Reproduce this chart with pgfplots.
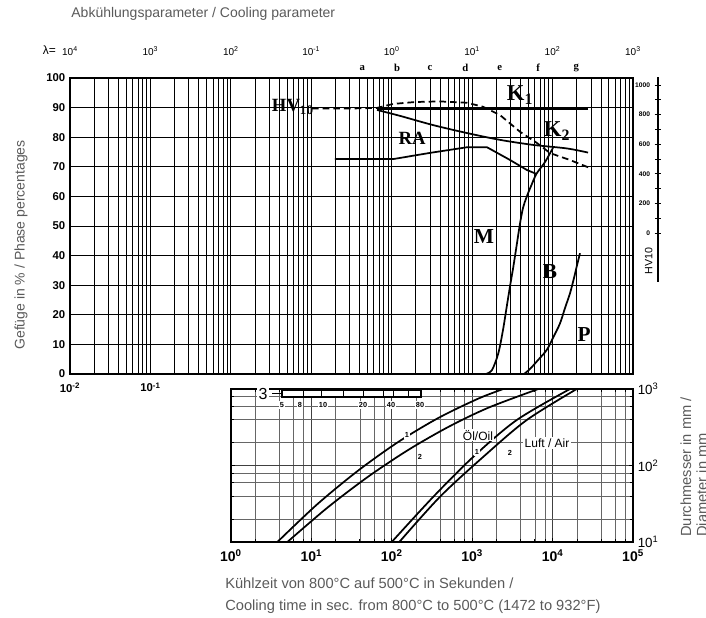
\documentclass[border=0pt]{standalone}
\usepackage{fontspec}
\setmainfont{Liberation Sans}
\newfontfamily\lbl{Liberation Serif}
\usepackage{pgfplots}
\pgfplotsset{compat=1.18}
\definecolor{txt}{HTML}{5A5A5A}

\begin{document}
\begin{tikzpicture}
\path[use as bounding box] (0,0) rectangle (529.5pt,462.75pt);

% upper panel: phase percentages
\begin{axis}[
  at={(52.5pt,182.25pt)}, anchor=south west, scale only axis,
  width=422.25pt, height=222pt,
  xmode=log, xmin=1e-2, xmax=1e5, ymin=0, ymax=100,
  xtick={1e-2,1e-1},
  xticklabels={\textbf{10\textsuperscript{-2}},\textbf{10\textsuperscript{-1}}},
  xticklabel style={yshift=-3pt},
  minor xtick={2e-2,3e-2,4e-2,5e-2,6e-2,7e-2,8e-2,9e-2,
    0.2,0.3,0.4,0.5,0.6,0.7,0.8,0.9,1,2,3,4,5,6,7,8,9,
    10,20,30,40,50,60,70,80,90,100,200,300,400,500,600,700,800,900,
    1000,2000,3000,4000,5000,6000,7000,8000,9000,
    10000,20000,30000,40000,50000,60000,70000,80000,90000},
  ytick={0,10,...,100},
  grid=both,
  major grid style={black, line width=0.65pt},
  minor grid style={black, line width=0.65pt},
  axis line style={line width=1.4pt},
  major tick length=0pt, minor tick length=0pt,
  tick label style={font=\bfseries\fontsize{8.5}{10}\selectfont},
  /pgf/number format/assume math mode=true,
  clip=false,
]
% K1
\addplot[black, line width=1.4pt] coordinates {(65.6,89.6) (27600,89.6)};
% K2
\addplot[black, line width=1.3pt, smooth] coordinates {
  (65.6,89.2) (127,87.2) (326,84.1) (863,81.4) (2220,79.1) (5710,77.4) (15100,76.2) (27600,74.8)};
% RA lower boundary
\addplot[black, line width=1.3pt] coordinates {
  (19.7,72.6) (104,72.6) (299,74.7) (863,76.6) (1531,76.6) (2958,72.3) (4810,68.9) (6300,67.6)};
% M
\addplot[black, line width=1.3pt, smooth] coordinates {
  (1480,0) (1766,1.35) (2115,7.0) (2420,14.9) (2690,22.7) (2960,29.7) (3255,36.3)
  (3615,44.3) (3940,50.9) (4290,56.1) (4770,59.9) (5400,63.5) (6300,67.6) (8050,71.6) (10120,76.4)};
% P
\addplot[black, line width=1.3pt, smooth] coordinates {
  (4415,0) (5240,1.7) (6590,4.7) (8450,8.1) (10120,12.2) (12370,17.1) (14280,22.3)
  (16480,27.3) (18460,32.4) (19950,36.3) (21940,40.8)};

\node[font=\lbl\bfseries\fontsize{14}{14}\selectfont] at (axis cs:5.9,90.2) {HV\textsubscript{10}};
\node[font=\lbl\bfseries\fontsize{17}{17}\selectfont] at (axis cs:3936,94.3) {K\textsubscript{1}};
\node[font=\lbl\bfseries\fontsize{17}{17}\selectfont] at (axis cs:11350,82.1) {K\textsubscript{2}};
\node[font=\lbl\bfseries\fontsize{14}{14}\selectfont] at (axis cs:179,79.7) {RA};
\node[font=\lbl\bfseries\fontsize{16}{16}\selectfont] at (axis cs:1403,46.3) {M};
\node[font=\lbl\bfseries\fontsize{16}{16}\selectfont] at (axis cs:9290,34.5) {B};
\node[font=\lbl\bfseries\fontsize{16}{16}\selectfont] at (axis cs:24600,13.2) {P};
\node[font=\lbl\bfseries\fontsize{8}{8}\selectfont] at (axis cs:43,103.4) {a};
\node[font=\lbl\bfseries\fontsize{8}{8}\selectfont] at (axis cs:117,103.4) {b};
\node[font=\lbl\bfseries\fontsize{8}{8}\selectfont] at (axis cs:300,103.4) {c};
\node[font=\lbl\bfseries\fontsize{8}{8}\selectfont] at (axis cs:820,103.4) {d};
\node[font=\lbl\bfseries\fontsize{8}{8}\selectfont] at (axis cs:2200,103.4) {e};
\node[font=\lbl\bfseries\fontsize{8}{8}\selectfont] at (axis cs:6600,103.4) {f};
\node[font=\lbl\bfseries\fontsize{8}{8}\selectfont] at (axis cs:19700,103.4) {g};
\end{axis}

% overlay: hardness HV10 and cooling parameter lambda
\begin{axis}[
  at={(52.5pt,182.25pt)}, anchor=south west, scale only axis,
  width=422.25pt, height=222pt,
  xmode=log, xmin=1e-2, xmax=1e5, ymin=-952.7, ymax=1047.3,
  axis line style={draw=none}, tick style={draw=none},
  ytick=\empty,
  xtick={1e-2,1e-1,1,10,100,1000,10000,100000},
  xticklabels={10\textsuperscript{4},10\textsuperscript{3},10\textsuperscript{2},10\textsuperscript{-1},
    10\textsuperscript{0},10\textsuperscript{1},10\textsuperscript{2},10\textsuperscript{3}},
  xticklabel pos=upper,
  xticklabel style={font=\fontsize{7.5}{8}\selectfont, yshift=13pt},
  clip=false,
]
\addplot[black, line width=1.3pt, dash pattern=on 5pt off 3pt] coordinates {
  (10.2,841) (30.3,841) (65.6,845) (104,872) (195,885) (398,889) (863,880) (1365,853)
  (2220,797) (3935,684) (6400,608) (9290,540) (16480,493) (29170,439)};
\node[anchor=east, font=\fontsize{9}{9}\selectfont] at (rel axis cs:0,1) [xshift=-7pt, yshift=21pt] {λ=};
\end{axis}

% HV10 scale
\begin{axis}[
  at={(493.5pt,251.25pt)}, anchor=south west, scale only axis,
  width=2pt, height=153.75pt, xmin=0, xmax=1, ymin=-331, ymax=1054,
  axis x line=none, axis y line=left, axis line style={-, line width=0.9pt},
  xtick=\empty, ytick={0,200,...,1000}, minor ytick={100,300,500,700,900},
  tick align=center, major tick length=5pt, minor tick length=4pt,
  tick style={black, line width=0.7pt},
  yticklabel style={font=\bfseries\fontsize{5}{5}\selectfont},
  /pgf/number format/assume math mode=true,
  /pgf/number format/1000 sep={},
  clip=false,
]
\node[rotate=90, anchor=south, inner sep=4pt, font=\fontsize{8}{8}\selectfont] at (axis cs:0,-190) {HV10};
\end{axis}

% lower panel: diameter vs cooling time
\begin{axis}[
  at={(173.2pt,56.25pt)}, anchor=south west, scale only axis,
  width=301.6pt, height=114.75pt,
  xmode=log, ymode=log, xmin=1, xmax=1e5, ymin=10, ymax=1000,
  xtick={1,10,100,1000,10000,100000},
  xticklabels={\textbf{10\textsuperscript{0}},\textbf{10\textsuperscript{1}},\textbf{10\textsuperscript{2}},
    \textbf{10\textsuperscript{3}},\textbf{10\textsuperscript{4}},\textbf{10\textsuperscript{5}}},
  ytick={10,100,1000},
  yticklabels={10\textsuperscript{1},10\textsuperscript{2},10\textsuperscript{3}},
  yticklabel pos=right,
  minor xtick={2,4,6,8,20,40,60,80,200,400,600,800,2000,4000,6000,8000,20000,40000,60000,80000},
  minor ytick={20,40,60,80,200,400,600,800},
  grid=both,
  major grid style={black!75, line width=0.45pt},
  minor grid style={black!60, line width=0.4pt},
  axis line style={line width=1.1pt},
  tick style={black, line width=0.5pt}, major tick length=3pt, minor tick length=2pt,
  xticklabel style={font=\fontsize{10.5}{10.5}\selectfont, yshift=-2pt},
  yticklabel style={font=\fontsize{10}{10}\selectfont},
  clip=false,
]
% oil 1
\addplot[black, line width=1.3pt, smooth] coordinates {
  (3.78,10) (11.9,31.3) (37.8,85.1) (119.4,202) (377.6,417) (1194,750) (2440,1000)};
% oil 2
\addplot[black, line width=1.3pt, smooth] coordinates {
  (5.03,10) (15.9,28.2) (50.4,71) (159,159) (504,319) (1592,570) (6640,1000)};
% air 1
\addplot[black, line width=1.3pt, smooth] coordinates {
  (99.8,10) (329,39.1) (1032,130) (3575,393) (16440,1000)};
% air 2
\addplot[black, line width=1.3pt, smooth] coordinates {
  (124,10) (398,39.1) (1375,130) (4760,393) (19950,1000)};
\node[font=\bfseries\fontsize{5.5}{6}\selectfont, fill=white, inner sep=0.8pt] at (axis cs:154.6,250) {1};
\node[font=\bfseries\fontsize{5.5}{6}\selectfont, fill=white, inner sep=0.8pt] at (axis cs:224,129) {2};
\node[font=\fontsize{9}{9}\selectfont, fill=white, inner sep=1pt] at (axis cs:1178,250) {Öl/Oil};
\node[font=\bfseries\fontsize{5.5}{6}\selectfont, fill=white, inner sep=0.8pt] at (axis cs:1146,150) {1};
\node[font=\bfseries\fontsize{5.5}{6}\selectfont, fill=white, inner sep=0.8pt] at (axis cs:2945,146) {2};
\node[font=\fontsize{9}{9}\selectfont, fill=white, inner sep=1pt] at (axis cs:8510,197) {Luft / Air};
\end{axis}

% ruler in the lower panel
\draw[line width=0.9pt, fill=white] (211.5pt,165pt) rectangle (315.75pt,170.25pt);
\foreach \x in {227.5,241.25,257.5,272.5,287.5,295,306.25}
  \draw[line width=0.9pt] (\x pt,165pt) -- (\x pt,170.25pt);
\draw[line width=0.5pt] (204pt,167.5pt) -- (211.5pt,167.5pt);
\node[font=\fontsize{12}{12}\selectfont, fill=white, inner sep=1pt] at (197.25pt,167.25pt) {3};
\begin{scope}[every node/.style={font=\bfseries\fontsize{5.5}{6}\selectfont, fill=white, inner sep=0.8pt}]
\node at (211.5pt,159pt) {5};
\node at (225pt,159pt) {8};
\node at (242.25pt,159pt) {10};
\node at (272.25pt,159pt) {20};
\node at (293.25pt,159pt) {40};
\node at (315pt,159pt) {80};
\end{scope}

% axis titles
\node[anchor=west, text=txt, font=\fontsize{10.5}{12}\selectfont] at (50pt,452pt) {Abkühlungsparameter / Cooling parameter};
\node[rotate=90, text=txt, font=\fontsize{10.5}{12}\selectfont] at (15.75pt,279pt) {Gefüge in \% / Phase percentages};
\node[anchor=base west, inner sep=0pt, text=txt, font=\fontsize{11}{12}\selectfont] at (168.75pt,21.75pt) {Kühlzeit von 800°C auf 500°C in Sekunden /};
\node[anchor=base west, inner sep=0pt, text=txt, font=\fontsize{11}{12}\selectfont] at (168.75pt,5.25pt) {Cooling time in sec. from 800°C to 500°C (1472 to 932°F)};
\node[rotate=90, anchor=base west, inner sep=0pt, text=txt, font=\fontsize{11}{12}\selectfont] at (518.25pt,60pt) {Durchmesser in mm /};
\node[rotate=90, anchor=base west, inner sep=0pt, text=txt, font=\fontsize{11}{12}\selectfont] at (530.25pt,60pt) {Diameter in mm};
\end{tikzpicture}
\end{document}
